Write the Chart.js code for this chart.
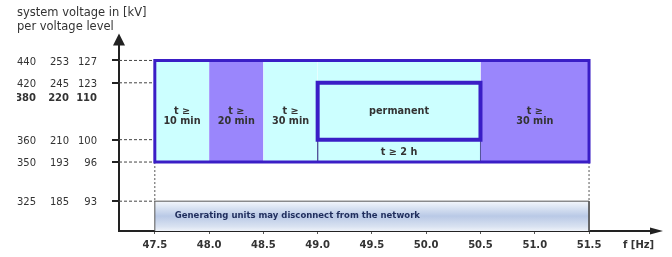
<!DOCTYPE html>
<html>
<head>
<meta charset="utf-8">
<script src="https://cdn.jsdelivr.net/npm/chart.js@4.4.1/dist/chart.umd.min.js"></script>
<style>
  html, body { margin: 0; padding: 0; background: #fff; }
</style>
</head>
<body>
<canvas id="freqChart" width="672" height="257"></canvas>
<script>
// voltage levels shown on the y axis (kV), one entry per row
const levels380 = [440, 420, 380, 360, 350, 325];
const levels220 = [253, 245, 220, 210, 193, 185];
const levels110 = [127, 123, 110, 100, 96, 93];
// schematic height of each level on the (not proportional) y axis
const levelHeight = [9.15, 7.95, 7.2, 4.9, 3.7, 1.6];

// frequency axis
const freqTicks = [47.5, 48.0, 48.5, 49.0, 49.5, 50.0, 50.5, 51.0, 51.5];
const freqMin = 47.17;
const freqMax = 52.08;

// minimum operating time per frequency band
const bandFrom = [47.5, 48.0, 48.5, 49.0, 50.5];
const bandTo = [48.0, 48.5, 49.0, 50.5, 51.5];
const bandLabels = [['t ≥', '10 min'], ['t ≥', '20 min'], ['t ≥', '30 min'], [], ['t ≥', '30 min']];

// permanent operation range
const permFrom = 49.0, permTo = 50.5;

const FONT = 'DejaVu Sans';
const TEXT = '#333';
const CYAN = '#ccffff';
const PURPLE = '#9a86fc';
const BOX = '#3a1ec6';
const bandColors = [CYAN, PURPLE, CYAN, CYAN, PURPLE];

Chart.defaults.font.family = FONT;

const h = kv => levelHeight[levels380.indexOf(kv)];
const pts = arr => arr.map(([x, y]) => ({x, y}));

function lineSet(points, extra) {
  return Object.assign({
    data: pts(points),
    showLine: true,
    fill: false,
    pointRadius: 0,
    tension: 0,
    borderJoinStyle: 'miter',
    borderCapStyle: 'butt'
  }, extra);
}

function genGradient(context) {
  const {chart} = context;
  const {ctx, chartArea, scales} = chart;
  if (!chartArea) return '#c5d3ea';
  const top = scales.y.getPixelForValue(h(325));
  const bottom = scales.y.getPixelForValue(0);
  const g = ctx.createLinearGradient(0, top, 0, bottom);
  g.addColorStop(0, '#f4f7fc');
  g.addColorStop(0.2, '#dce5f3');
  g.addColorStop(0.5, '#b9c9e6');
  g.addColorStop(0.85, '#d9e2f1');
  g.addColorStop(1, '#eef2f9');
  return g;
}

const datasets = [];

// coloured frequency bands
bandFrom.forEach((from, i) => {
  datasets.push(lineSet([[from, h(440)], [bandTo[i], h(440)]], {
    fill: {value: h(350)},
    backgroundColor: bandColors[i],
    borderColor: 'rgba(0,0,0,0)',
    borderWidth: 1,
    order: 10
  }));
});

// generating units bar
datasets.push(lineSet([[47.5, h(325)], [51.5, h(325)]], {
  fill: {value: 0},
  backgroundColor: genGradient,
  borderColor: 'rgba(0,0,0,0)',
  borderWidth: 1,
  order: 10
}));
datasets.push(lineSet([[47.5, 0], [47.5, h(325)], [51.5, h(325)], [51.5, 0]], {
  borderColor: '#555', borderWidth: 1, order: 5
}));

// dashed guide lines from the y axis
[440, 420, 360, 350, 325].forEach(kv => {
  datasets.push(lineSet([[freqMin, h(kv)], [47.5, h(kv)]], {
    borderColor: '#444', borderWidth: 1, borderDash: [3, 2], order: 6
  }));
});
[47.5, 51.5].forEach(f => {
  datasets.push(lineSet([[f, h(350)], [f, h(325)]], {
    borderColor: '#555', borderWidth: 1, borderDash: [2, 2], order: 6
  }));
});

// thin separators of the "t ≥ 2 h" strip
[permFrom, permTo].forEach(f => {
  datasets.push(lineSet([[f, h(360)], [f, h(350)]], {
    borderColor: '#55559a', borderWidth: 1, order: 4
  }));
});

// outer box and permanent box
datasets.push(lineSet([[47.5, h(350)], [47.5, h(440)], [51.5, h(440)], [51.5, h(350)], [47.5, h(350)], [47.5, h(440)]], {
  borderColor: BOX, borderWidth: 3, order: 2
}));
datasets.push(lineSet([[permFrom, h(360)], [permFrom, h(420)], [permTo, h(420)], [permTo, h(360)], [permFrom, h(360)], [permFrom, h(420)]], {
  borderColor: BOX, borderWidth: 4, order: 1
}));

const labelsPlugin = {
  id: 'diagramLabels',
  afterDatasetsDraw(chart) {
    const {ctx, chartArea, scales: {x, y}} = chart;
    ctx.save();
    ctx.fillStyle = TEXT;
    ctx.textAlign = 'center';
    ctx.textBaseline = 'middle';
    ctx.font = 'bold 9.7px ' + FONT;
    const boxMid = (y.getPixelForValue(h(440)) + y.getPixelForValue(h(350))) / 2;
    bandLabels.forEach((lines, i) => {
      const cx = (x.getPixelForValue(bandFrom[i]) + x.getPixelForValue(bandTo[i])) / 2;
      lines.forEach((t, j) => {
        ctx.fillText(t, cx, boxMid + 5.5 + (j - (lines.length - 1) / 2) * 10);
      });
    });
    const pcx = (x.getPixelForValue(permFrom) + x.getPixelForValue(permTo)) / 2;
    ctx.fillText('permanent', pcx, (y.getPixelForValue(h(420)) + y.getPixelForValue(h(360))) / 2);
    ctx.fillText('t ≥ 2 h', pcx, (y.getPixelForValue(h(360)) + y.getPixelForValue(h(350))) / 2 + 2);

    // generating units text
    ctx.font = 'bold 8.5px ' + FONT;
    ctx.fillStyle = '#1f2d5c';
    ctx.textAlign = 'left';
    ctx.fillText('Generating units may disconnect from the network',
      x.getPixelForValue(47.5) + 20,
      (y.getPixelForValue(h(325)) + y.getPixelForValue(0)) / 2);

    // axis arrows
    ctx.fillStyle = '#222';
    ctx.beginPath();
    ctx.moveTo(chartArea.left, chartArea.top - 11);
    ctx.lineTo(chartArea.left - 6, chartArea.top + 1);
    ctx.lineTo(chartArea.left + 6, chartArea.top + 1);
    ctx.closePath();
    ctx.fill();
    ctx.beginPath();
    ctx.moveTo(chartArea.right + 11, chartArea.bottom);
    ctx.lineTo(chartArea.right - 2, chartArea.bottom - 3.5);
    ctx.lineTo(chartArea.right - 2, chartArea.bottom + 3.5);
    ctx.closePath();
    ctx.fill();

    // x axis unit
    ctx.fillStyle = TEXT;
    ctx.font = 'bold 10px ' + FONT;
    ctx.fillText('f [Hz]', chartArea.right - 29, chartArea.bottom + 14);
    ctx.restore();
  }
};

const setLevelTicks = scale => { scale.ticks = levelHeight.map(v => ({value: v})); };
const levelFont = ctx => ({family: FONT, size: 10, weight: ctx.index === 2 ? 'bold' : 'normal'});

new Chart(document.getElementById('freqChart'), {
  type: 'line',
  data: {datasets},
  options: {
    responsive: false,
    animation: false,
    layout: {padding: {left: 17, right: 20, top: 0, bottom: 1}},
    plugins: {
      legend: {display: false},
      tooltip: {enabled: false},
      title: {
        display: true,
        text: ['system voltage in [kV]', 'per voltage level'],
        align: 'start',
        color: TEXT,
        font: {size: 11.5, weight: 'normal', lineHeight: 1.2},
        padding: {top: 6, bottom: 11}
      }
    },
    scales: {
      x: {
        type: 'linear',
        min: freqMin,
        max: freqMax,
        bounds: 'data',
        afterBuildTicks: scale => { scale.ticks = freqTicks.map(v => ({value: v})); },
        ticks: {
          autoSkip: false,
          maxRotation: 0,
          padding: 5,
          color: TEXT,
          font: {size: 10, weight: 'bold'},
          callback: v => v.toFixed(1)
        },
        grid: {drawOnChartArea: false, drawTicks: true, tickLength: 3, color: '#555'},
        border: {display: true, width: 2, color: '#222'}
      },
      y: {
        type: 'linear',
        position: 'left',
        weight: 0,
        min: 0,
        max: 10,
        afterBuildTicks: setLevelTicks,
        afterFit: scale => { scale.width = 47; },
        ticks: {
          autoSkip: false,
          padding: 15,
          labelOffset: 1.5,
          color: TEXT,
          font: levelFont,
          callback: (v, i) => levels110[i]
        },
        grid: {
          drawOnChartArea: false,
          drawTicks: true,
          tickLength: 7,
          lineWidth: 2,
          color: ctx => ctx.index === 2 ? 'rgba(0,0,0,0)' : '#222'
        },
        border: {display: true, width: 2, color: '#222'}
      },
      y220: {
        type: 'linear',
        position: 'left',
        weight: 1,
        min: 0,
        max: 10,
        afterBuildTicks: setLevelTicks,
        afterFit: scale => { scale.width = 32; },
        ticks: {autoSkip: false, padding: 3, labelOffset: 1.5, color: TEXT, font: levelFont, callback: (v, i) => levels220[i]},
        grid: {display: false, drawTicks: false},
        border: {display: false}
      },
      y380: {
        type: 'linear',
        position: 'left',
        weight: 2,
        min: 0,
        max: 10,
        afterBuildTicks: setLevelTicks,
        afterFit: scale => { scale.width = 23; },
        ticks: {autoSkip: false, padding: 4, labelOffset: 1.5, color: TEXT, font: levelFont, callback: (v, i) => levels380[i]},
        grid: {display: false, drawTicks: false},
        border: {display: false}
      }
    }
  },
  plugins: [labelsPlugin]
});
</script>
</body>
</html>
